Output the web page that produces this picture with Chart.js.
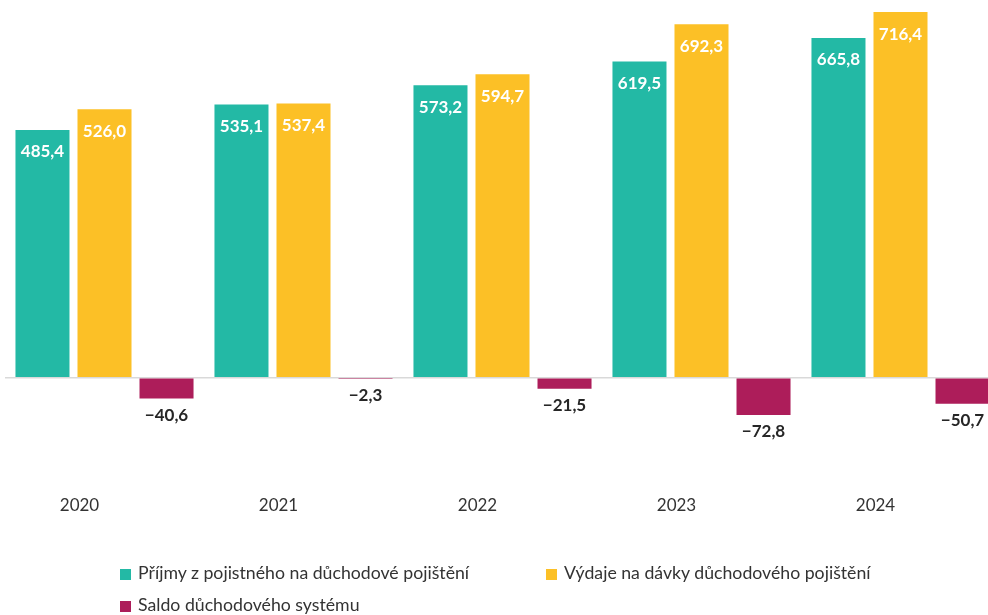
<!DOCTYPE html>
<html>
<head>
<meta charset="utf-8">
<script src="https://cdn.jsdelivr.net/npm/chart.js@4"></script>
<style>
  html, body { margin: 0; padding: 0; background: #fff; overflow: hidden; }
  #wrap { position: relative; width: 1000px; height: 522px; }
  #legend { position: absolute; left: 0; top: 0; width: 988px; height: 615px; pointer-events: none;
            font-family: Lato, "Open Sans", sans-serif; font-size: 17.7px; color: #333; }
  .item { position: absolute; white-space: nowrap; line-height: 20px; }
  .box { display: inline-block; width: 11px; height: 11px; margin-right: 7px; vertical-align: -1px; }
</style>
</head>
<body>
<div id="wrap"><canvas id="myChart" width="1000" height="522"></canvas></div>
<div id="legend"></div>
<script>
const years = ['2020', '2021', '2022', '2023', '2024'];
const prijmy = [485.4, 535.1, 573.2, 619.5, 665.8];
const vydaje = [526.0, 537.4, 594.7, 692.3, 716.4];
const saldo = [-40.6, -2.3, -21.5, -72.8, -50.7];
const seriesNames = ['Příjmy z pojistného na důchodové pojištění', 'Výdaje na dávky důchodového pojištění', 'Saldo důchodového systému'];
const colors = ['#23B9A5', '#FCC026', '#AD1D5A'];

function fmt(v) {
    let s = Math.abs(v).toFixed(1).replace('.', ',');
    return v < 0 ? '\u2212' + s : s;
}

// value labels drawn over / under the bars
const barLabels = {
    id: 'barLabels',
    afterDatasetsDraw(chart) {
        const c = chart.ctx;
        c.save();
        c.font = 'bold 17px Lato, "Open Sans", sans-serif';
        c.textAlign = 'center';
        c.textBaseline = 'middle';
        chart.data.datasets.forEach((ds, i) => {
            chart.getDatasetMeta(i).data.forEach((bar, j) => {
                const v = ds.data[j];
                if (v >= 0) {
                    c.fillStyle = '#ffffff';
                    c.fillText(fmt(v), bar.x, bar.y + 22);
                } else {
                    c.fillStyle = '#262626';
                    c.fillText(fmt(v), bar.x, Math.max(bar.y, bar.base) + 17);
                }
            });
        });
        c.restore();
    }
};

const ctx = document.getElementById('myChart').getContext('2d');
const myChart = new Chart(ctx, {
    type: 'bar',
    data: {
        labels: years,
        datasets: [
            { label: seriesNames[0], data: prijmy, backgroundColor: colors[0] },
            { label: seriesNames[1], data: vydaje, backgroundColor: colors[1] },
            { label: seriesNames[2], data: saldo, backgroundColor: colors[2] }
        ]
    },
    options: {
        responsive: false,
        animation: false,
        layout: { padding: { left: 5, right: 0, top: 0, bottom: 0 } },
        datasets: { bar: { categoryPercentage: 0.935, barPercentage: 0.871 } },
        plugins: { legend: { display: false }, tooltip: { enabled: false } },
        scales: {
            x: {
                grid: { display: false, drawTicks: false },
                border: { display: false },
                ticks: {
                    color: '#333',
                    font: { family: 'Lato, "Open Sans", sans-serif', size: 17 },
                    padding: 6,
                    labelOffset: -25
                }
            },
            y: {
                min: -219,
                max: 740,
                display: true,
                border: { display: false },
                ticks: { display: false, stepSize: 100 },
                grid: {
                    drawTicks: false,
                    lineWidth: 1.5,
                    color: (c) => (c.tick && c.tick.value === 0) ? '#d9d9d9' : 'rgba(0,0,0,0)'
                }
            }
        }
    },
    plugins: [barLabels]
});

// html legend at the bottom
const legendPos = [[120, 563], [546, 563], [120, 595]];
const legend = document.getElementById('legend');
seriesNames.forEach((name, i) => {
    const el = document.createElement('div');
    el.className = 'item';
    el.style.left = legendPos[i][0] + 'px';
    el.style.top = legendPos[i][1] + 'px';
    el.innerHTML = '<span class="box" style="background:' + colors[i] + '"></span>' + name;
    legend.appendChild(el);
});
</script>
</body>
</html>
